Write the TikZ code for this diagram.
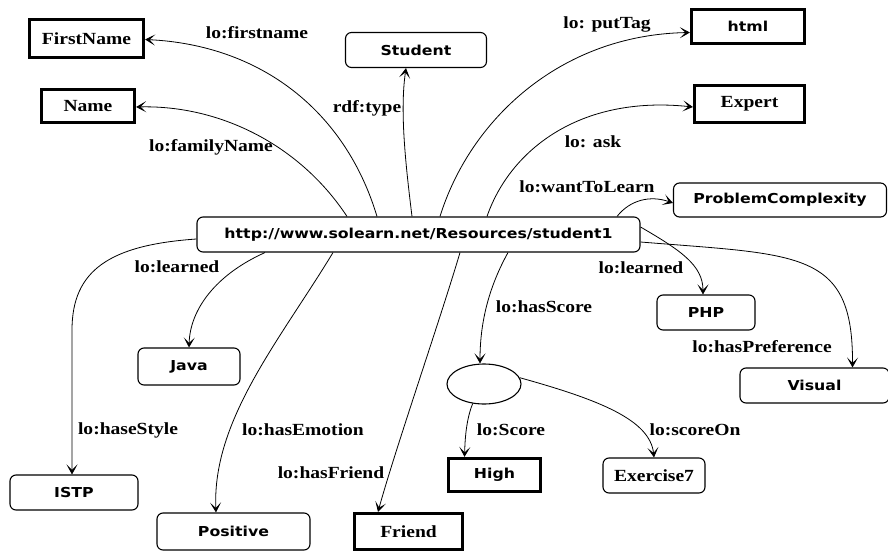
\documentclass[tikz,border=0pt]{standalone}
\usepackage{fontspec}
\usetikzlibrary{arrows.meta,shapes.geometric}
\newfontfamily\labfont[FakeStretch=1.15]{Liberation Serif}
\newfontfamily\boxsans[FakeStretch=1.15]{DejaVu Sans}
\begin{document}
\begin{tikzpicture}[x=1pt,y=-1pt,
  lbl/.style={font=\labfont\bfseries\fontsize{17}{20}\selectfont, inner sep=0pt},
  rbox/.style={draw, rounded corners=6pt, line width=1.1pt, font=\boxsans\bfseries\fontsize{13.7}{16}\selectfont, inner sep=0pt},
  rboxs/.style={rbox, font=\labfont\bfseries\fontsize{17}{20}\selectfont},
  tbox/.style={draw, line width=3.2pt, font=\labfont\bfseries\fontsize{17}{20}\selectfont, inner sep=0pt},
  tboxs/.style={tbox, font=\boxsans\bfseries\fontsize{13.7}{16}\selectfont},
  arr/.style={line width=0.8pt, -{Stealth[length=10pt,width=11pt,inset=5.5pt]}}]
\useasboundingbox (0,0) rectangle (888,551);
% nodes
\node[tbox, minimum width=114pt, minimum height=38pt] (FirstName) at (86.5,38.5) {FirstName};
\node[tbox, minimum width=93pt, minimum height=33pt] (Name) at (88,106) {Name};
\node[rbox, minimum width=141pt, minimum height=35pt] (Student) at (416,50) {Student};
\node[tboxs, minimum width=113pt, minimum height=34pt] (html) at (748,26.5) {html};
\node[tbox, minimum width=110pt, minimum height=37pt] (Expert) at (749.5,104) {Expert};
\node[rbox, minimum width=213pt, minimum height=34pt] (PC) at (780,200) {ProblemComplexity};
\node[rbox, minimum width=443pt, minimum height=35pt] (main) at (418.5,234.5) {http://www.solearn.net/Resources/student1};
\node[rbox, minimum width=102pt, minimum height=37pt] (Java) at (189,366.5) {Java};
\node[rbox, minimum width=98pt, minimum height=35pt] (PHP) at (706,312.5) {PHP};
\node[rbox, minimum width=149pt, minimum height=35pt] (Visual) at (814.5,385.5) {Visual};
\node[draw, ellipse, line width=1.1pt, minimum width=74pt, minimum height=40pt, inner sep=0pt] (score) at (484,384) {};
\node[rbox, minimum width=128pt, minimum height=35pt] (ISTP) at (74,492.5) {ISTP};
\node[rbox, minimum width=153pt, minimum height=37pt] (Positive) at (233.5,531.5) {Positive};
\node[tbox, minimum width=108pt, minimum height=36pt] (Friend) at (408.5,531.5) {Friend};
\node[tboxs, minimum width=92pt, minimum height=33pt] (High) at (494.5,475) {High};
\node[rboxs, minimum width=102pt, minimum height=35pt] (Ex7) at (654,475.5) {Exercise7};
% connectors
\draw[arr] ([xshift=-41.5pt]main.north) .. controls (345,110) and (260,45) .. ([yshift=-1pt]FirstName.east);
\draw[arr] ([xshift=-71.5pt]main.north) .. controls (300,145) and (220,105) .. ([yshift=-1pt]Name.east);
\draw[arr] ([xshift=-6.5pt]main.north) .. controls (405,160) and (400,110) .. ([xshift=-10pt]Student.south);
\draw[arr] ([xshift=21.5pt]main.north) .. controls (470,120) and (560,35) .. ([yshift=-6pt]html.west);
\draw[arr] ([xshift=68.5pt]main.north) .. controls (510,150) and (580,95) .. ([yshift=-3pt]Expert.west);
\draw[arr] ([xshift=198.5pt]main.north) .. controls (630,200) and (650,195) .. ([yshift=-3pt]PC.west);
\draw[arr] ([yshift=-7.5pt]main.east) .. controls (800,255) and (853,250) .. ([xshift=38pt]Visual.north);
\draw[arr] ([yshift=7.5pt]main.east) .. controls (680,250) and (703,265) .. ([xshift=-3pt]PHP.north);
\draw[arr] ([xshift=89.5pt]main.south) .. controls (490,285) and (480,320) .. ([xshift=-4pt]score.north);
\draw[arr] ([yshift=-4.5pt]main.west) .. controls (110,245) and (72,270) .. (72,330) -- ([xshift=-2pt]ISTP.north);
\draw[arr] ([xshift=-153.5pt]main.south) .. controls (215,275) and (190,310) .. (Java.north);
\draw[arr] ([xshift=-85.5pt]main.south) .. controls (280,340) and (212,420) .. ([xshift=-17.5pt]Positive.north);
\draw[arr] ([xshift=41.5pt]main.south) .. controls (440,320) and (395,450) .. ([xshift=-30.5pt]Friend.north);
\draw[arr] (score.240) .. controls (466,420) and (465,440) .. ([xshift=-30pt]High.north);
\draw[arr] (score.10) .. controls (600,400) and (650,420) .. (Ex7.north);
% labels
\node[lbl] (l1) at (257,33) {lo:firstname};
\node[lbl] (l2) at (367,108) {rdf:type};
\node[lbl] (l3) at (211,147) {lo:familyName};
\node[lbl] (l4) at (607,24) {lo: putTag};
\node[lbl] (l5) at (593,142) {lo: ask};
\node[lbl] (l6) at (587,187) {lo:wantToLearn};
\node[lbl] (l7) at (177,267) {lo:learned};
\node[lbl] (l8) at (641,268) {lo:learned};
\node[lbl] (l9) at (544,307) {lo:hasScore};
\node[lbl] (l10) at (762,347) {lo:hasPreference};
\node[lbl] (l11) at (128,430) {lo:haseStyle};
\node[lbl] (l12) at (303,430) {lo:hasEmotion};
\node[lbl] (l13) at (331,473) {lo:hasFriend};
\node[lbl] (l14) at (511,430) {lo:Score};
\node[lbl] (l15) at (695,430) {lo:scoreOn};
\end{tikzpicture}
\end{document}
